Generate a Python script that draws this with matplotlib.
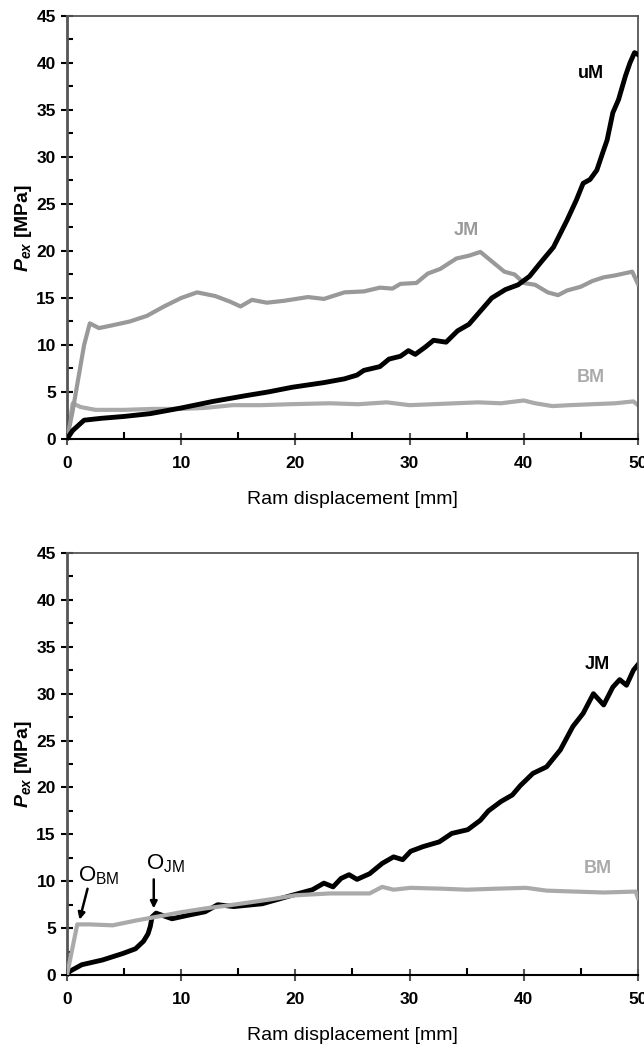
import matplotlib
matplotlib.use("Agg")
import matplotlib.pyplot as plt
from matplotlib.ticker import MultipleLocator

plt.rcParams['font.family'] = ['Liberation Sans', 'DejaVu Sans']
plt.rcParams['mathtext.fontset'] = 'custom'
plt.rcParams['mathtext.it'] = 'Liberation Sans:italic:bold'
plt.rcParams['mathtext.rm'] = 'Liberation Sans'
plt.rcParams['mathtext.bf'] = 'Liberation Sans:bold'

# top panel: uM, JM, BM
um_x = [0, 0.5, 1.5, 3, 5, 7.3, 10, 12.8, 15.6, 17.6, 19.7, 22.5, 24.3, 25.4, 26, 27.4,
        28.2, 29.2, 29.9, 30.5, 31.4, 32.1, 33.2, 34.2, 35.2, 36.2, 37.2, 38.4, 39.5,
        40.5, 41.5, 42.6, 43.8, 44.6, 45.2, 45.8, 46.4, 46.9, 47.3, 47.8, 48.3, 48.9,
        49.3, 49.7, 50]
um_y = [0, 0.9, 2.0, 2.2, 2.4, 2.7, 3.3, 4.0, 4.6, 5.0, 5.5, 6.0, 6.4, 6.8, 7.3, 7.7,
        8.5, 8.8, 9.4, 9.0, 9.8, 10.5, 10.3, 11.5, 12.2, 13.6, 15.0, 15.9, 16.4,
        17.3, 18.8, 20.4, 23.3, 25.4, 27.2, 27.6, 28.6, 30.4, 31.8, 34.7, 36.1, 38.6,
        40.0, 41.1, 40.9]

jm_top_x = [0, 0.5, 1.0, 1.5, 2.0, 2.8, 4, 5.5, 7, 8.5, 10, 11.4, 13, 14.3, 15.2, 16.2,
            17.5, 19, 21.1, 22.5, 24.3, 26, 27.4, 28.5, 29.2, 30.6, 31.6, 32.7, 34.1,
            35.2, 36.2, 37.2, 38.3, 39.2, 40, 41, 42.1, 43, 43.8, 45, 46, 47, 48, 49.5,
            50]
jm_top_y = [0, 3.0, 6.5, 10.0, 12.3, 11.8, 12.1, 12.5, 13.1, 14.1, 15.0, 15.6, 15.2,
            14.6, 14.1, 14.8, 14.5, 14.7, 15.1, 14.9, 15.6, 15.7, 16.1, 16.0, 16.5,
            16.6, 17.6, 18.1, 19.2, 19.5, 19.9, 18.9, 17.8, 17.5, 16.6, 16.4, 15.6,
            15.3, 15.8, 16.2, 16.8, 17.2, 17.4, 17.8, 16.5]

bm_top_x = [0, 0.5, 1.2, 2.5, 5, 7.5, 10, 12, 14.5, 17, 19.5, 23, 25.5, 28, 30, 32, 34,
            36, 38, 40, 41, 42.5, 44, 46, 48, 49.6, 50]
bm_top_y = [0, 3.8, 3.4, 3.1, 3.1, 3.2, 3.2, 3.3, 3.6, 3.6, 3.7, 3.8, 3.7, 3.9, 3.6,
            3.7, 3.8, 3.9, 3.8, 4.1, 3.8, 3.5, 3.6, 3.7, 3.8, 4.0, 3.6]

# bottom panel: JM, BM
jm_bot_x = [0, 0.25, 1.3, 3.1, 4.9, 6.0, 6.7, 7.1, 7.3, 7.45, 7.8, 8.5, 9.2, 10.7,
            12.1, 13.2, 14.6, 17.1, 20.0, 21.5, 22.5, 23.3, 24.0, 24.7, 25.4, 26.5,
            27.6, 28.6, 29.4, 30.1, 31.2, 32.6, 33.7, 35.1, 36.2, 36.9, 38.0, 39.0,
            39.7, 40.8, 42.0, 43.2, 44.3, 45.2, 46.1, 47.0, 47.8, 48.4, 49.0, 49.6,
            50]
jm_bot_y = [0, 0.4, 1.1, 1.6, 2.3, 2.8, 3.6, 4.4, 5.2, 6.2, 6.6, 6.3, 6.0, 6.4,
            6.75, 7.5, 7.3, 7.6, 8.6, 9.1, 9.8, 9.4, 10.3, 10.7, 10.2, 10.8,
            11.9, 12.6, 12.3, 13.2, 13.7, 14.2, 15.1, 15.5, 16.5, 17.5, 18.5, 19.2,
            20.2, 21.5, 22.2, 24.0, 26.5, 27.9, 30.0, 28.8, 30.7, 31.5, 30.9, 32.5,
            33.1]

bm_bot_x = [0, 0.9, 2, 4, 6, 7.8, 10, 12.1, 14, 16.3, 18, 20, 23, 26.5, 27.6, 28.6, 30.1,
            33, 35, 37.4, 40.2, 42, 44.5, 47, 49.8, 50]
bm_bot_y = [0, 5.4, 5.4, 5.3, 5.8, 6.2, 6.7, 7.1, 7.4, 7.8, 8.1, 8.5, 8.7, 8.7, 9.4,
            9.1, 9.3, 9.2, 9.1, 9.2, 9.3, 9.0, 8.9, 8.8, 8.9, 8.2]

x_ticks = [0, 10, 20, 30, 40, 50]
y_ticks = [0, 5, 10, 15, 20, 25, 30, 35, 40, 45]

DARK = 'black'
MID = '#999999'
LIGHT = '#aaaaaa'
SPINE = '#555555'


def style_axes(ax):
    ax.set_xlim(0, 50)
    ax.set_ylim(0, 45)
    ax.set_xticks(x_ticks)
    ax.set_yticks(y_ticks)
    ax.xaxis.set_minor_locator(MultipleLocator(5))
    ax.yaxis.set_minor_locator(MultipleLocator(2.5))
    ax.tick_params(axis='x', which='major', direction='inout', length=9, width=1.5,
                   color=SPINE, pad=8, labelsize=12.5)
    ax.tick_params(axis='x', which='minor', direction='in', length=5, width=1.5,
                   color='black')
    ax.tick_params(axis='y', which='major', direction='inout', length=8, width=1.5,
                   color='black', pad=4, labelsize=12.5)
    ax.tick_params(axis='y', which='minor', direction='in', length=4, width=1.5,
                   color='black')
    for lab in ax.get_xticklabels() + ax.get_yticklabels():
        lab.set_fontweight('bold')
    for side in ['left', 'top', 'right']:
        ax.spines[side].set_color(SPINE)
    ax.spines['left'].set_linewidth(2)
    ax.spines['top'].set_linewidth(1.3)
    ax.spines['right'].set_linewidth(1.3)
    ax.spines['bottom'].set_color('black')
    ax.spines['bottom'].set_linewidth(1.5)
    ax.set_xlabel('Ram displacement [mm]', fontsize=14, labelpad=14)
    ax.set_ylabel('$P_{ex}$ [MPa]', fontsize=14, fontweight='bold', labelpad=2)


fig = plt.figure(figsize=(6.44, 10.5), dpi=100)
ax1 = fig.add_axes([0.104, 0.5819, 0.8866, 0.4029])
ax2 = fig.add_axes([0.104, 0.0714, 0.8866, 0.4019])

ax1.plot(bm_top_x, bm_top_y, color=LIGHT, lw=3, zorder=2)
ax1.plot(jm_top_x, jm_top_y, color=MID, lw=3, zorder=3)
ax1.plot(um_x, um_y, color=DARK, lw=3.5, zorder=4)
ax1.text(45.9, 38.9, 'uM', color=DARK, fontsize=13, fontweight='bold', ha='center', va='center')
ax1.text(35.0, 22.2, 'JM', color=MID, fontsize=13, fontweight='bold', ha='center', va='center')
ax1.text(45.9, 6.5, 'BM', color=LIGHT, fontsize=13, fontweight='bold', ha='center', va='center')
style_axes(ax1)

ax2.plot(bm_bot_x, bm_bot_y, color=LIGHT, lw=3, zorder=3)
ax2.plot(jm_bot_x, jm_bot_y, color=DARK, lw=3.5, zorder=2)
ax2.text(46.4, 33.1, 'JM', color=DARK, fontsize=13, fontweight='bold', ha='center', va='center')
ax2.text(46.5, 11.4, 'BM', color=LIGHT, fontsize=13, fontweight='bold', ha='center', va='center')

ax2.text(1.0, 10.6, r'O$_{\mathrm{BM}}$', fontsize=16, ha='left', va='center')
ax2.annotate('', xy=(1.1, 5.9), xytext=(1.8, 9.2),
             arrowprops=dict(arrowstyle='-|>', color='black', lw=1.8, shrinkA=0, shrinkB=0))
ax2.text(6.9, 11.9, r'O$_{\mathrm{JM}}$', fontsize=16, ha='left', va='center')
ax2.annotate('', xy=(7.6, 7.1), xytext=(7.6, 10.2),
             arrowprops=dict(arrowstyle='-|>', color='black', lw=1.8, shrinkA=0, shrinkB=0))
style_axes(ax2)

fig.savefig('out.png', dpi=100)
